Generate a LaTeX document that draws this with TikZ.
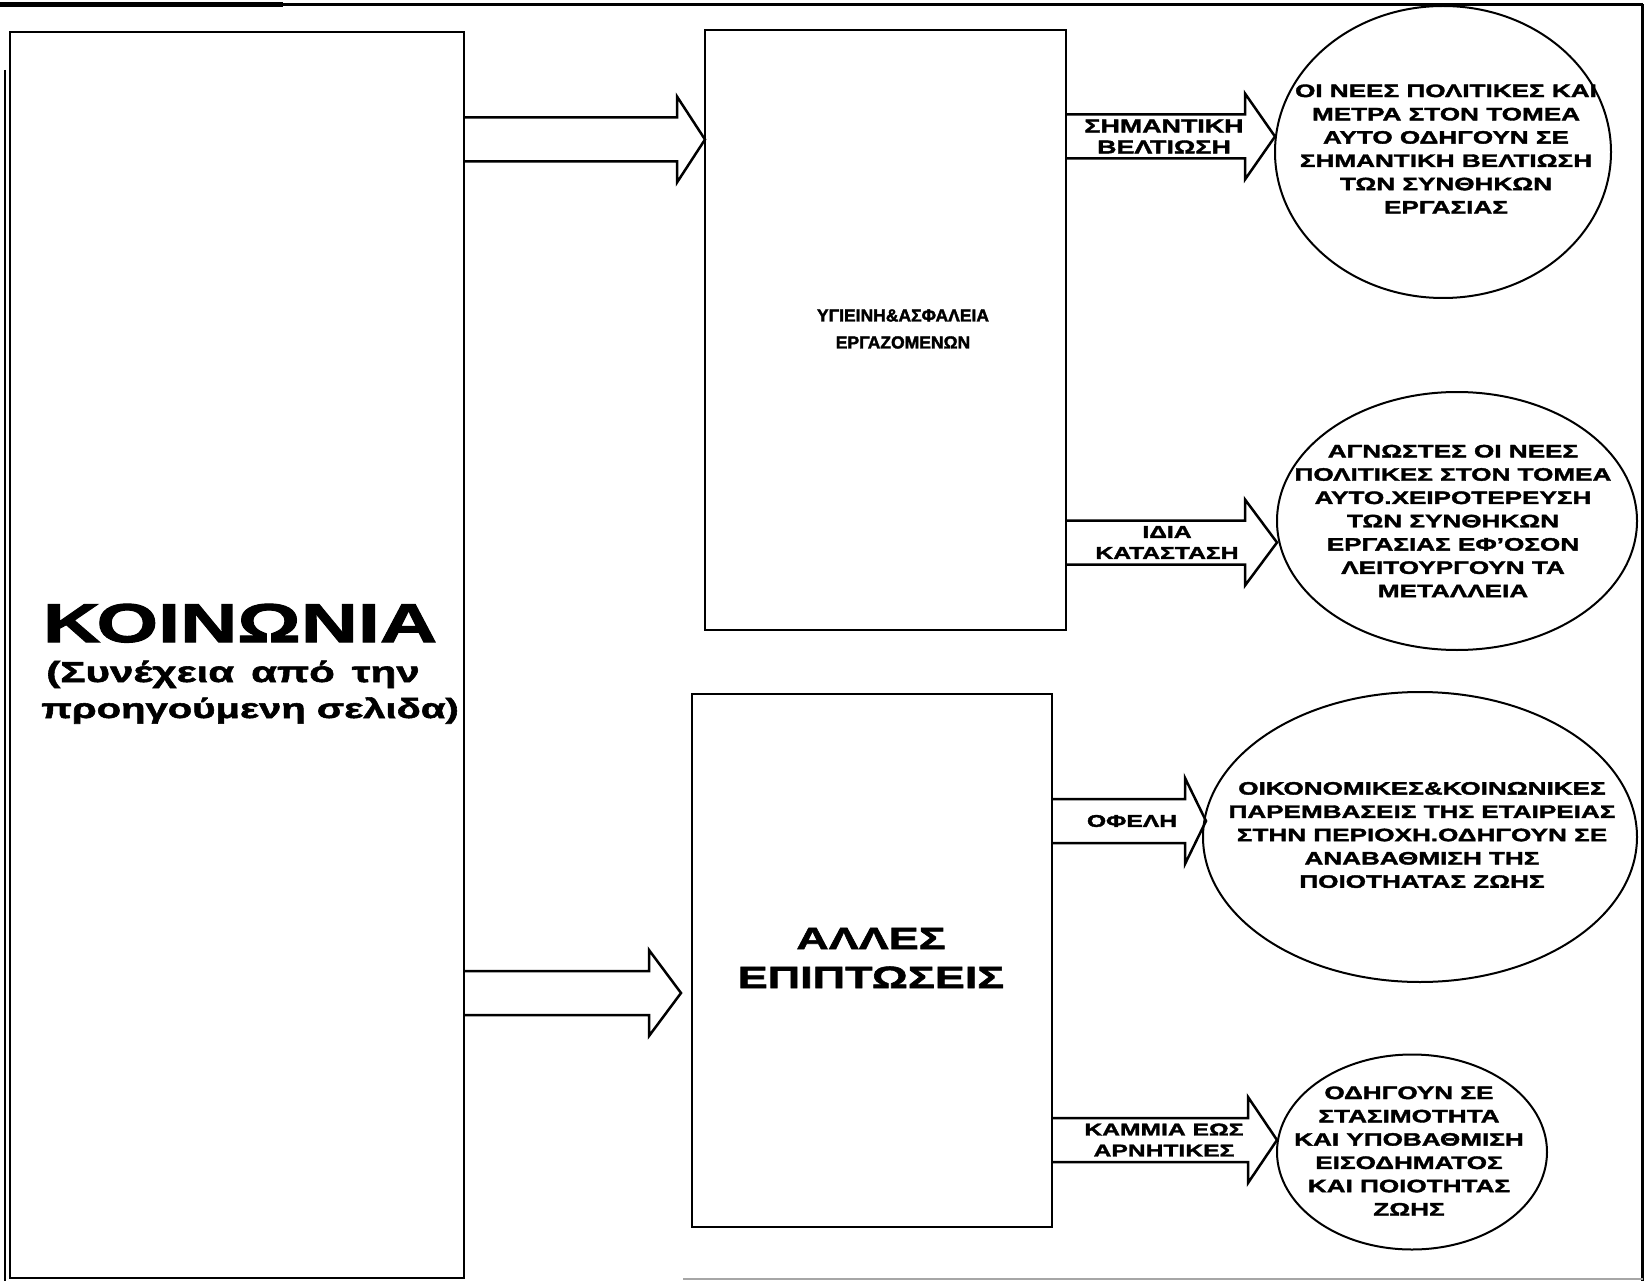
\documentclass[tikz,border=0pt]{standalone}
\usepackage{fontspec}
\setmainfont{Liberation Sans}[FakeStretch=1.45, FakeBold=2]
\newfontfamily\plainfont{Liberation Sans}[FakeBold=2]
\usetikzlibrary{shapes.geometric,calc}
\tikzset{
 boxnode/.style={draw, line width=2.8pt, inner sep=0pt, outer sep=0pt},
 ellnode/.style={draw, ellipse, line width=2pt, inner sep=0pt, outer sep=0pt},
 blk/.style={draw, line width=2.5pt, line join=miter},
 frameline/.style={line width=3pt},
 etext/.style={font=\bfseries\fontsize{18}{23.3}\selectfont, align=center, inner sep=0pt},
 ltext/.style={font=\bfseries\fontsize{17}{21}\selectfont, align=center, inner sep=0pt},
}
\newcommand{\barrow}[3]{%
  \draw[blk] ($(#1.east |- #3)+(0,22pt)$) -- ($(#3)+(0,22pt)$) -- ($(#3)+(0,43pt)$)
    -- (#2) -- ($(#3)+(0,-43pt)$) -- ($(#3)+(0,-22pt)$) -- ($(#1.east |- #3)+(0,-22pt)$);}
\begin{document}
\begin{tikzpicture}[x=1pt,y=-1pt]
\fill[white] (0,0) rectangle (1647,1281);
\useasboundingbox (0,0) rectangle (1647,1281);
% frame lines of the page
\draw[frameline] (0,5) -- (1643,5);
\draw[line width=5pt] (0,5) -- (283,5);
\draw[frameline] (1642,4) -- (1642,1281);
\draw[line width=2pt] (5,70) -- (5,1281);
\draw[line width=1.5pt, black!35] (683,1279) -- (1643,1279);
% boxes
\node[boxnode, minimum width=454pt, minimum height=1246pt] (kin) at (237,655) {};
\node[boxnode, minimum width=361pt, minimum height=600pt] (b1) at (885.5,330) {};
\node[boxnode, minimum width=360pt, minimum height=533pt] (b2) at (872,960.5) {};
% ellipses
\node[ellnode, minimum width=336pt, minimum height=292pt] (e1) at (1443,152) {};
\node[ellnode, minimum width=360pt, minimum height=258pt] (e2) at (1457,521) {};
\node[ellnode, minimum width=434pt, minimum height=290pt] (e3) at (1420,837) {};
\node[ellnode, minimum width=270pt, minimum height=195pt] (e4) at (1412,1152) {};
% texts of the big box
\node[anchor=base, inner sep=0pt, font=\bfseries\fontsize{54.6}{60}\selectfont] (kt1) at (240,642) {ΚΟΙΝΩΝΙΑ};
\node[anchor=base, inner sep=0pt, font=\bfseries\fontsize{29}{34}\selectfont] (kt2) at (233,682) {(Συνέχεια\hspace{17pt}από\hspace{17pt}την};
\node[anchor=base, inner sep=0pt, font=\bfseries\fontsize{27.6}{34}\selectfont] (kt3) at (250,718) {προηγούμενη σελιδα)};
% box texts
\node[align=center, inner sep=0pt, font=\plainfont\bfseries\fontsize{17.5}{27}\selectfont] (b1t) at (903,329) {ΥΓΙΕΙΝΗ\&ΑΣΦΑΛΕΙΑ\\ΕΡΓΑΖΟΜΕΝΩΝ};
\node[align=center, inner sep=0pt, font=\bfseries\fontsize{31}{39}\selectfont] (b2t) at (871,958) {ΑΛΛΕΣ\\ΕΠΙΠΤΩΣΕΙΣ};
% ellipse texts
\node[etext] (e1t) at (1446,149) {ΟΙ ΝΕΕΣ ΠΟΛΙΤΙΚΕΣ ΚΑΙ\\ΜΕΤΡΑ ΣΤΟΝ ΤΟΜΕΑ\\ΑΥΤΟ ΟΔΗΓΟΥΝ ΣΕ\\ΣΗΜΑΝΤΙΚΗ ΒΕΛΤΙΩΣΗ\\ΤΩΝ ΣΥΝΘΗΚΩΝ\\ΕΡΓΑΣΙΑΣ};
\node[etext] (e2t) at (1453,521) {ΑΓΝΩΣΤΕΣ ΟΙ ΝΕΕΣ\\ΠΟΛΙΤΙΚΕΣ ΣΤΟΝ ΤΟΜΕΑ\\ΑΥΤΟ.ΧΕΙΡΟΤΕΡΕΥΣΗ\\ΤΩΝ ΣΥΝΘΗΚΩΝ\\ΕΡΓΑΣΙΑΣ ΕΦ’ΟΣΟΝ\\ΛΕΙΤΟΥΡΓΟΥΝ ΤΑ\\ΜΕΤΑΛΛΕΙΑ};
\node[etext] (e3t) at (1422,835) {ΟΙΚΟΝΟΜΙΚΕΣ\&ΚΟΙΝΩΝΙΚΕΣ\\ΠΑΡΕΜΒΑΣΕΙΣ ΤΗΣ ΕΤΑΙΡΕΙΑΣ\\ΣΤΗΝ ΠΕΡΙΟΧΗ.ΟΔΗΓΟΥΝ ΣΕ\\ΑΝΑΒΑΘΜΙΣΗ ΤΗΣ\\ΠΟΙΟΤΗΑΤΑΣ ΖΩΗΣ};
\node[etext] (e4t) at (1409,1151) {ΟΔΗΓΟΥΝ ΣΕ\\ΣΤΑΣΙΜΟΤΗΤΑ\\ΚΑΙ ΥΠΟΒΑΘΜΙΣΗ\\ΕΙΣΟΔΗΜΑΤΟΣ\\ΚΑΙ ΠΟΙΟΤΗΤΑΣ\\ΖΩΗΣ};
% arrows
\coordinate (m1) at (677,139.5);
\coordinate (m2) at (649,993);
\coordinate (m3) at (1245,136.5);
\coordinate (m4) at (1245,542.5);
\coordinate (m5) at (1185,821);
\coordinate (m6) at (1248,1140);
\barrow{kin}{b1.west |- m1}{m1}
\barrow{kin}{$(b2.west |- m2)+(-11pt,0)$}{m2}
\barrow{b1}{e1.west |- m3}{m3}
\barrow{b1}{e2.west |- m4}{m4}
\barrow{b2}{$(e3.west |- m5)+(3pt,0)$}{m5}
\barrow{b2}{e4.west |- m6}{m6}
% arrow labels
\node[ltext, font=\bfseries\fontsize{18.5}{21}\selectfont] (l3) at (1164,136.5) {ΣΗΜΑΝΤΙΚΗ\\ΒΕΛΤΙΩΣΗ};
\node[ltext] (l4) at (1167,542.5) {ΙΔΙΑ\\ΚΑΤΑΣΤΑΣΗ};
\node[ltext] (l5) at (1132,821) {ΟΦΕΛΗ};
\node[ltext] (l6) at (1164,1140) {ΚΑΜΜΙΑ ΕΩΣ\\ΑΡΝΗΤΙΚΕΣ};
\end{tikzpicture}
\end{document}
